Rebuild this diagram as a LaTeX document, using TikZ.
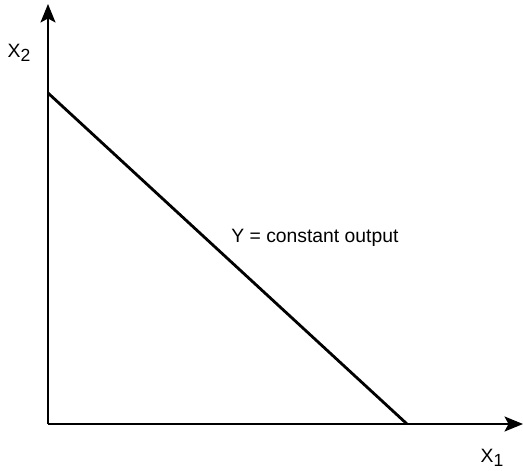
\documentclass[tikz,border=0pt]{standalone}
\usepackage{fontspec}
\setmainfont{Liberation Sans}
\usetikzlibrary{arrows.meta}
\newcommand{\axsub}[1]{\raisebox{-0.45ex}{\fontsize{10}{10}\selectfont #1}}
\begin{document}
\begin{tikzpicture}[x=0.02cm, y=0.02cm,
        axis/.style={line width=1.1pt, -{Stealth[length=0.37cm, width=0.3cm, inset=0.08cm]}},
        isoquant/.style={line width=1.6pt},
        lbl/.style={font=\fontsize{11}{13}\selectfont, inner sep=0pt}]
    \useasboundingbox (0,0) rectangle (523,470);

    % axes
    \coordinate (o) at (48,46);
    \coordinate (ytop) at (48,466);
    \coordinate (xend) at (523,46);
    \draw[axis] (o) -- (ytop);
    \draw[axis] (o) -- (xend);

    \node[lbl] (x2) at (19,417) {X\axsub{2}};
    \node[lbl] (x1) at (492,12) {X\axsub{1}};

    % constant output line
    \coordinate (a) at (48,377);
    \coordinate (b) at (407,46);
    \draw[isoquant] (a) -- (b);

    \node[lbl, anchor=west] (y) at (231,232) {Y = constant output};
\end{tikzpicture}
\end{document}
